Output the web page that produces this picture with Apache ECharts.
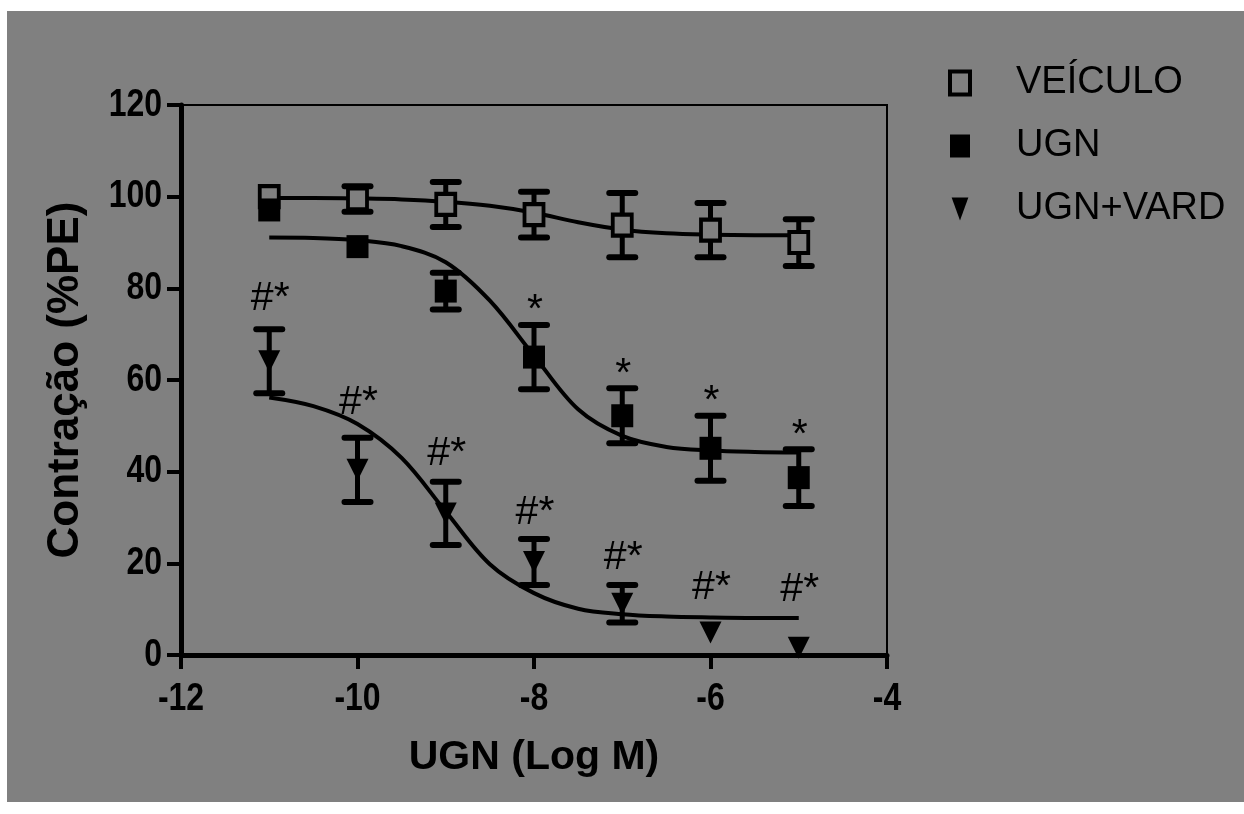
<!DOCTYPE html>
<html>
<head>
<meta charset="utf-8">
<script src="https://cdn.jsdelivr.net/npm/echarts@6/dist/echarts.min.js"></script>
<style>
html,body{margin:0;padding:0;background:#ffffff;}
#chart{position:absolute;left:7px;top:11px;width:1237px;height:791px;background:#808080;}
</style>
</head>
<body>
<div id="chart"></div>
<script>
// ---- data ----
const doses = [-11, -10, -9, -8, -7, -6, -5];
const veiculoMean = [100, 99.5, 98.3, 96.1, 93.8, 92.7, 90.0];
const veiculoSem  = [0, 2.8, 4.9, 5.0, 7.0, 5.9, 5.1];
const ugnMean = [97.1, 89.1, 79.4, 65.0, 52.2, 45.1, 38.7];
const ugnSem  = [0, 0, 4.0, 7.0, 6.0, 7.1, 6.2];
const vardMean = [64.1, 40.4, 30.9, 20.3, 11.2, 4.9, 1.6];
const vardSem  = [7.0, 7.0, 6.9, 5.0, 4.1, 0, 0];

// fitted curves
const fitX = [-11, -10.5, -10, -9.5, -9, -8.5, -8, -7.5, -7, -6.5, -6, -5.5, -5];
const veiculoFit = [99.7, 99.7, 99.6, 99.4, 98.9, 98.0, 96.5, 94.4, 92.8, 92.0, 91.7, 91.6, 91.6];
const ugnFit = [91.1, 91.0, 90.5, 89.2, 85.7, 77.3, 65.3, 53.6, 47.8, 45.4, 44.6, 44.3, 44.2];
const vardFit = [56.2, 54.3, 50.4, 43.0, 31.3, 19.8, 13.5, 10.1, 8.9, 8.4, 8.2, 8.1, 8.1];

// significance marks and the value they sit on
const ugnSig = ['', '', '', '*', '*', '*', '*'];
const ugnSigAt = [null, null, null, 72.0, 58.2, 52.2, 44.9];
const vardSig = ['#*', '#*', '#*', '#*', '#*', '#*', '#*'];
const vardSigAt = [74.6, 51.9, 40.8, 27.9, 18.1, 11.6, 11.3];

const xTicks = [-12, -10, -8, -6, -4];
const yTicks = [0, 20, 40, 60, 80, 100, 120];

const seriesNames = ['VEÍCULO', 'UGN', 'UGN+VARD'];
const xTitle = 'UGN (Log M)';
const yTitle = 'Contração (%PE)';

// ---- build ----
const REG = "'Liberation Sans', Arial, sans-serif";
const GRAY = '#808080';
const NARROW_SCALE = 0.82;

function pairs(xs, ys) { return xs.map((x, i) => [x, ys[i]]); }
function errData(means, sems) {
  const out = [];
  means.forEach((m, i) => { if (sems[i] > 0) out.push([doses[i], m - sems[i], m + sems[i]]); });
  return out;
}
function sigData(marks, at) {
  const out = [];
  marks.forEach((t, i) => { if (t && at[i] != null) out.push([doses[i], at[i], t]); });
  return out;
}

function errRender(params, api) {
  const x = api.value(0), lo = api.value(1), hi = api.value(2);
  const a = api.coord([x, lo]), b = api.coord([x, hi]);
  const hw = 13;
  return {
    type: 'group',
    children: [
      { type: 'line', shape: { x1: a[0], y1: a[1], x2: b[0], y2: b[1] }, style: { stroke: '#000', lineWidth: 5 } },
      { type: 'line', shape: { x1: a[0] - hw, y1: a[1], x2: a[0] + hw, y2: a[1] }, style: { stroke: '#000', lineWidth: 6, lineCap: 'round' } },
      { type: 'line', shape: { x1: b[0] - hw, y1: b[1], x2: b[0] + hw, y2: b[1] }, style: { stroke: '#000', lineWidth: 6, lineCap: 'round' } }
    ]
  };
}
function sigRender(params, api) {
  const p = api.coord([api.value(0), api.value(1)]);
  return {
    type: 'text',
    x: p[0] + 1, y: p[1] - 14,
    style: { text: api.value(2), fill: '#000', fontSize: 41, fontFamily: REG, align: 'center', verticalAlign: 'middle' }
  };
}
// condensed bold tick labels (the original uses a narrow typeface)
function xLabelRender(params, api) {
  const p = api.coord([api.value(0), api.value(1)]);
  return {
    type: 'text', x: p[0], y: p[1] + 44, scaleX: NARROW_SCALE,
    style: { text: String(api.value(0)), fill: '#000', fontSize: 39, fontWeight: 'bold', fontFamily: REG, align: 'center', verticalAlign: 'middle' }
  };
}
function yLabelRender(params, api) {
  const p = api.coord([api.value(0), api.value(1)]);
  return {
    type: 'text', x: p[0] - 19, y: p[1], scaleX: NARROW_SCALE,
    style: { text: String(api.value(1)), fill: '#000', fontSize: 39, fontWeight: 'bold', fontFamily: REG, align: 'right', verticalAlign: 'middle' }
  };
}

const chart = echarts.init(document.getElementById('chart'), null, { renderer: 'canvas' });
const triPath = 'path://M0,0L16,0L8,22Z';

chart.setOption({
  animation: false,
  backgroundColor: GRAY,
  grid: { left: 174, top: 94, right: 357, bottom: 147, show: true, borderColor: '#000', borderWidth: 2, backgroundColor: 'transparent' },
  legend: {
    orient: 'vertical',
    left: 936, top: 47,
    itemWidth: 20, itemHeight: 23, itemGap: 23,
    textStyle: { fontSize: 38, fontFamily: REG, color: '#000', lineHeight: 40, padding: [0, 0, 0, 41] },
    data: [
      { name: seriesNames[0], icon: 'rect', itemStyle: { color: GRAY, borderColor: '#000', borderWidth: 4 } },
      { name: seriesNames[1], icon: 'rect', itemStyle: { color: '#000', borderWidth: 0 } },
      { name: seriesNames[2], icon: triPath, itemStyle: { color: '#000', borderWidth: 0 } }
    ],
    selectedMode: false
  },
  xAxis: {
    type: 'value', min: xTicks[0], max: xTicks[xTicks.length - 1], interval: 2,
    name: xTitle, nameLocation: 'middle', nameGap: 82,
    nameTextStyle: { fontSize: 41, fontWeight: 'bold', fontFamily: REG, color: '#000' },
    axisLine: { show: true, onZero: false, lineStyle: { color: '#000', width: 5 } },
    axisTick: { show: true, length: 14, lineStyle: { color: '#000', width: 4 } },
    axisLabel: { show: false },
    splitLine: { show: false }
  },
  yAxis: {
    type: 'value', min: yTicks[0], max: yTicks[yTicks.length - 1], interval: 20,
    name: yTitle, nameLocation: 'middle', nameGap: 93, nameRotate: 90,
    nameTextStyle: { fontSize: 44, fontWeight: 'bold', fontFamily: REG, color: '#000' },
    axisLine: { show: true, onZero: false, lineStyle: { color: '#000', width: 5 } },
    axisTick: { show: true, length: 14, lineStyle: { color: '#000', width: 4 } },
    axisLabel: { show: false },
    splitLine: { show: false }
  },
  series: [
    { name: 'fit-veiculo', type: 'line', data: pairs(fitX, veiculoFit), smooth: 0.35, symbol: 'none', lineStyle: { color: '#000', width: 4 }, z: 2, silent: true },
    { name: 'fit-ugn', type: 'line', data: pairs(fitX, ugnFit), smooth: 0.35, symbol: 'none', lineStyle: { color: '#000', width: 4 }, z: 2, silent: true },
    { name: 'fit-vard', type: 'line', data: pairs(fitX, vardFit), smooth: 0.35, symbol: 'none', lineStyle: { color: '#000', width: 4 }, z: 2, silent: true },
    { name: 'err-veiculo', type: 'custom', renderItem: errRender, data: errData(veiculoMean, veiculoSem), z: 3, silent: true },
    { name: 'err-ugn', type: 'custom', renderItem: errRender, data: errData(ugnMean, ugnSem), z: 3, silent: true },
    { name: 'err-vard', type: 'custom', renderItem: errRender, data: errData(vardMean, vardSem), z: 3, silent: true },
    { name: seriesNames[0], type: 'scatter', data: pairs(doses, veiculoMean), symbol: 'rect', symbolSize: [19, 21],
      itemStyle: { color: GRAY, borderColor: '#000', borderWidth: 4, opacity: 1 }, z: 4 },
    { name: seriesNames[1], type: 'scatter', data: pairs(doses, ugnMean), symbol: 'rect', symbolSize: [22, 23],
      itemStyle: { color: '#000', opacity: 1 }, z: 5 },
    { name: seriesNames[2], type: 'scatter', data: pairs(doses, vardMean), symbol: 'triangle', symbolRotate: 180, symbolSize: [22, 22],
      itemStyle: { color: '#000', opacity: 1 }, z: 5 },
    { name: 'sig-ugn', type: 'custom', renderItem: sigRender, data: sigData(ugnSig, ugnSigAt), z: 6, silent: true },
    { name: 'sig-vard', type: 'custom', renderItem: sigRender, data: sigData(vardSig, vardSigAt), z: 6, silent: true },
    { name: 'x-tick-labels', type: 'custom', renderItem: xLabelRender, data: xTicks.map(v => [v, yTicks[0]]), z: 6, silent: true, clip: false },
    { name: 'y-tick-labels', type: 'custom', renderItem: yLabelRender, data: yTicks.map(v => [xTicks[0], v]), z: 6, silent: true, clip: false }
  ]
});
</script>
</body>
</html>
